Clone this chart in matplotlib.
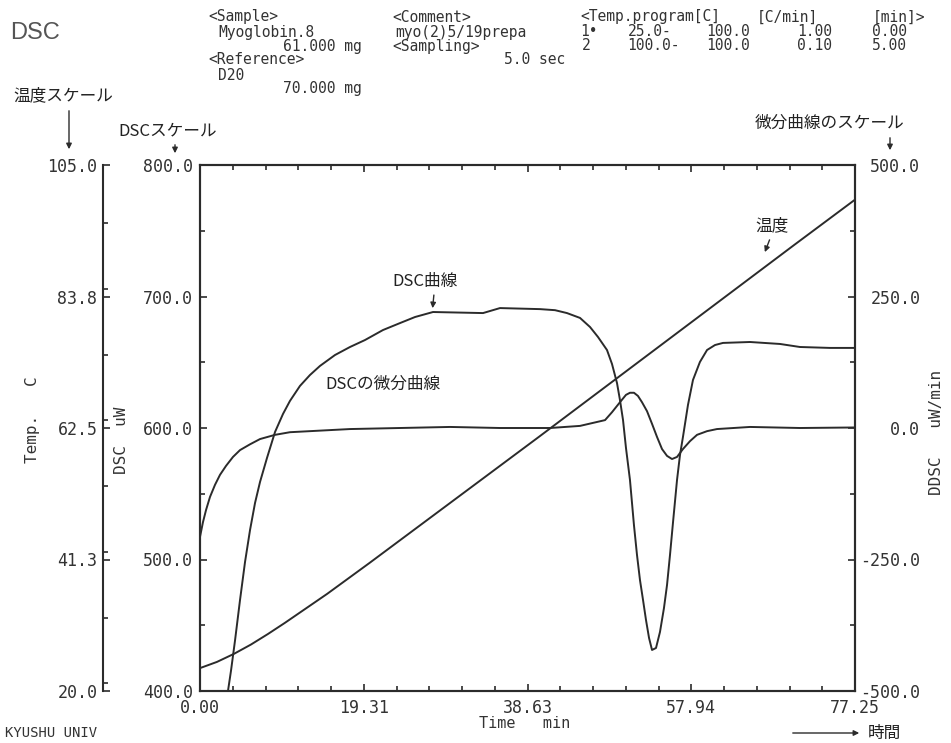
import matplotlib
matplotlib.use('Agg')
import matplotlib.pyplot as plt
from matplotlib.ticker import MultipleLocator

# DSC trace (uW)
dsc_t = [3.30, 3.66, 4.13, 4.72, 5.31, 5.90, 6.49, 7.08, 7.90, 8.85, 9.79, 10.61,
         11.79, 12.97, 14.15, 15.92, 17.69, 19.46, 21.58, 23.59, 25.36, 27.48,
         33.38, 35.38, 40.10, 41.87, 43.28, 44.82, 46.00, 46.94, 48.00, 48.59,
         49.18, 49.53, 49.89, 50.24, 50.71, 51.18, 51.54, 51.89, 52.25, 52.60,
         52.96, 53.31, 53.78, 54.25, 54.72, 55.08, 55.43, 55.79, 56.26, 56.61,
         56.96, 57.55, 58.14, 58.96, 59.80, 60.74, 61.68, 64.87, 68.41, 70.76,
         74.30, 77.25]
dsc_uw = [400, 415.6, 438.4, 469.2, 498.1, 522.4, 543.0, 559.0, 577.2, 597.0, 610.7, 620.6,
          632.0, 640.3, 647.2, 655.5, 661.6, 666.9, 674.5, 679.8, 684.4, 688.2,
          687.4, 691.2, 690.4, 689.6, 687.4, 683.7, 676.8, 669.2, 659.3, 648.7,
          634.2, 621.3, 606.1, 584.8, 560.5, 526.2, 503.4, 484.4, 469.2, 454.0,
          440.3, 431.2, 432.7, 444.9, 463.1, 480.6, 503.4, 528.5, 560.5, 579.5,
          593.2, 617.5, 636.5, 650.2, 659.3, 663.1, 664.7, 665.4, 663.9, 661.6,
          660.9, 660.9]

# derivative of DSC (uW/min)
ddsc_t = [0, 0.35, 0.71, 1.18, 1.77, 2.36, 3.07, 3.89, 4.72, 5.90, 7.08, 8.85,
          10.61, 12.97, 17.69, 23.59, 29.49, 35.38, 41.28, 44.82, 47.77, 48.59,
          49.53, 50.24, 50.71, 51.18, 51.65, 52.13, 52.72, 53.31, 53.90, 54.49,
          55.08, 55.67, 56.26, 56.96, 57.79, 58.62, 59.80, 60.97, 64.87, 70.76, 77.25]
ddsc_v = [-207, -179, -156, -131, -108, -89, -72, -55, -42, -31, -21, -13,
          -8, -6, -2, 0, 2, 0, 0, 4, 15, 30,
          49, 63, 67, 67, 61, 49, 32, 8, -17, -40,
          -53, -59, -55, -40, -25, -13, -6, -2, 2, 0, 1]

# sample temperature (C)
temp_t = [0, 2, 4, 6, 8, 10, 15, 20, 30, 40, 50, 60, 70, 77.25]
temp_c = [23.7, 24.7, 26.0, 27.5, 29.2, 31.0, 35.7, 40.7, 50.9, 61.1, 71.4, 81.7, 92.0, 99.4]

time_ticks = [0, 19.3125, 38.625, 57.9375, 77.25]
time_labels = ['0.00', '19.31', '38.63', '57.94', '77.25']
dsc_ticks = [400, 500, 600, 700, 800]
dsc_labels = ['400.0', '500.0', '600.0', '700.0', '800.0']
ddsc_ticks = [-500, -250, 0, 250, 500]
ddsc_labels = ['-500.0', '-250.0', '0.0', '250.0', '500.0']
temp_ticks = [20, 41.25, 62.5, 83.75, 105]
temp_labels = ['20.0', '41.3', '62.5', '83.8', '105.0']

W, H = 951, 743
INK = '#2b2b2b'
MONO = 'DejaVu Sans Mono'
JP = ['Noto Sans CJK JP', 'DejaVu Sans']


def fp(x, y):
    # pixel position in the picture -> figure fraction
    return x / W, 1 - y / H


fig = plt.figure(figsize=(W / 100, H / 100), dpi=100)
fig.patch.set_facecolor('white')
ax = fig.add_axes([200 / W, 1 - 691 / H, 655 / W, 526 / H])
ax2 = ax.twinx()
ax3 = ax.twinx()

ax.plot(dsc_t, dsc_uw, color=INK, lw=1.4)
ax2.plot(ddsc_t, ddsc_v, color=INK, lw=1.4)
ax3.plot(temp_t, temp_c, color=INK, lw=1.4)

ax.set_xlim(0, 77.25)
ax.set_ylim(400, 800)
ax2.set_ylim(-500, 500)
ax3.set_ylim(20, 105)

tick_font = dict(family=MONO, size=12, color='#333333')

ax.set_xticks(time_ticks)
ax.set_xticklabels(time_labels, **tick_font)
ax.xaxis.set_minor_locator(MultipleLocator(77.25 / 20))
ax.set_yticks(dsc_ticks)
ax.set_yticklabels(dsc_labels, **tick_font)
ax.yaxis.set_minor_locator(MultipleLocator(50))
ax.tick_params(which='both', direction='in', top=True, right=False, color=INK, width=1.2)
ax.tick_params(which='major', length=5)
ax.tick_params(which='minor', length=3.5)
ax.tick_params(axis='x', pad=6)
ax.tick_params(axis='y', pad=5)

ax2.set_yticks(ddsc_ticks)
ax2.set_yticklabels(ddsc_labels, **tick_font)
ax2.yaxis.set_minor_locator(MultipleLocator(125))
ax2.tick_params(which='both', direction='in', color=INK, width=1.2, pad=47)
ax2.tick_params(which='major', length=5)
ax2.tick_params(which='minor', length=3.5)
for lab in ax2.get_yticklabels():
    lab.set_horizontalalignment('right')

ax3.spines['right'].set_visible(False)
ax3.spines['top'].set_visible(False)
ax3.spines['bottom'].set_visible(False)
ax3.spines['left'].set_visible(True)
ax3.spines['left'].set_position(('axes', -97 / 655))
ax3.yaxis.set_ticks_position('left')
ax3.yaxis.set_label_position('left')
ax3.set_yticks(temp_ticks)
ax3.set_yticklabels(temp_labels, **tick_font)
ax3.yaxis.set_minor_locator(MultipleLocator(85 / 8))
ax3.tick_params(which='both', direction='in', color=INK, width=1.2, pad=4)
ax3.tick_params(which='major', length=5)
ax3.tick_params(which='minor', length=3.5)

for a in (ax, ax2, ax3):
    for s in a.spines.values():
        s.set_color(INK)
        s.set_linewidth(1.5)
    a.patch.set_visible(False)

# axis titles
fig.text(*fp(33, 420), 'Temp.   C', rotation=90, ha='center', va='center',
         family=MONO, size=11.5, color='#333333')
fig.text(*fp(121, 440), 'DSC  uW', rotation=90, ha='center', va='center',
         family=MONO, size=11.5, color='#333333')
fig.text(*fp(936, 432), 'DDSC   uW/min', rotation=90, ha='center', va='center',
         family=MONO, size=11.5, color='#333333')
fig.text(*fp(525, 723), 'Time   min', ha='center', va='center',
         family=MONO, size=11, color='#333333')

# header block
head = dict(family=MONO, size=10.5, color='#333333', va='center')
fig.text(*fp(10, 33), 'DSC', family='Liberation Sans', size=17, color='#555555', va='center')
fig.text(*fp(208, 17), '<Sample>', **head)
fig.text(*fp(218, 32), 'Myoglobin.8', **head)
fig.text(*fp(362, 46), '61.000 mg', ha='right', **head)
fig.text(*fp(208, 60), '<Reference>', **head)
fig.text(*fp(218, 75), 'D20', **head)
fig.text(*fp(362, 89), '70.000 mg', ha='right', **head)
fig.text(*fp(392, 17), '<Comment>', **head)
fig.text(*fp(395, 32), 'myo(2)5/19prepa', **head)
fig.text(*fp(392, 46), '<Sampling>', **head)
fig.text(*fp(565, 60), '5.0 sec', ha='right', **head)
fig.text(*fp(580, 17), '<Temp.program[C]', **head)
fig.text(*fp(757, 17), '[C/min]', **head)
fig.text(*fp(873, 17), '[min]>', **head)
fig.text(*fp(580, 32), '1\u2022', **head)
fig.text(*fp(672, 32), '25.0-', ha='right', **head)
fig.text(*fp(750, 32), '100.0', ha='right', **head)
fig.text(*fp(832, 32), '1.00', ha='right', **head)
fig.text(*fp(907, 32), '0.00', ha='right', **head)
fig.text(*fp(582, 46), '2', **head)
fig.text(*fp(680, 46), '100.0-', ha='right', **head)
fig.text(*fp(750, 46), '100.0', ha='right', **head)
fig.text(*fp(832, 46), '0.10', ha='right', **head)
fig.text(*fp(907, 46), '5.00', ha='right', **head)
fig.text(*fp(5, 733), 'KYUSHU UNIV', family=MONO, size=10, color='#333333', va='center')

# scale notes with arrows
jp = dict(family=JP, size=12, color='#222222')
arrow = dict(arrowstyle='-|>', color=INK, lw=1.0, mutation_scale=8)
fig.text(*fp(13, 96), '温度スケール', va='center', **jp)
ax.annotate('', xy=fp(69, 152), xytext=fp(69, 108), xycoords='figure fraction',
            textcoords='figure fraction', arrowprops=arrow, annotation_clip=False)
fig.text(*fp(118, 131), 'DSCスケール', va='center', **jp)
ax.annotate('', xy=fp(175, 156), xytext=fp(175, 142), xycoords='figure fraction',
            textcoords='figure fraction', arrowprops=arrow, annotation_clip=False)
fig.text(*fp(755, 123), '微分曲線のスケール', va='center', **jp)
ax.annotate('', xy=fp(890, 153), xytext=fp(890, 135), xycoords='figure fraction',
            textcoords='figure fraction', arrowprops=arrow, annotation_clip=False)

# curve names
ax.annotate('DSC曲線', xy=(27.4, 689), xytext=fp(392, 281), textcoords='figure fraction',
            va='center', arrowprops=dict(arrowstyle='-|>', color=INK, lw=1.0,
                                          mutation_scale=8, relpos=(0.65, 0)), **jp)
ax3.annotate('温度', xy=(66.5, 90.5), xytext=fp(755, 226), textcoords='figure fraction',
             va='center', arrowprops=dict(arrowstyle='-|>', color=INK, lw=1.0,
                                           mutation_scale=8, relpos=(0.5, 0)), **jp)
fig.text(*fp(325, 384), 'DSCの微分曲線', va='center', **jp)

# time direction arrow
ax.annotate('', xy=fp(862, 733), xytext=fp(790, 733), xycoords='figure fraction',
            textcoords='figure fraction', arrowprops=arrow, annotation_clip=False)
fig.text(*fp(868, 733), '時間', va='center', **jp)

fig.savefig('out.png', dpi=100)
